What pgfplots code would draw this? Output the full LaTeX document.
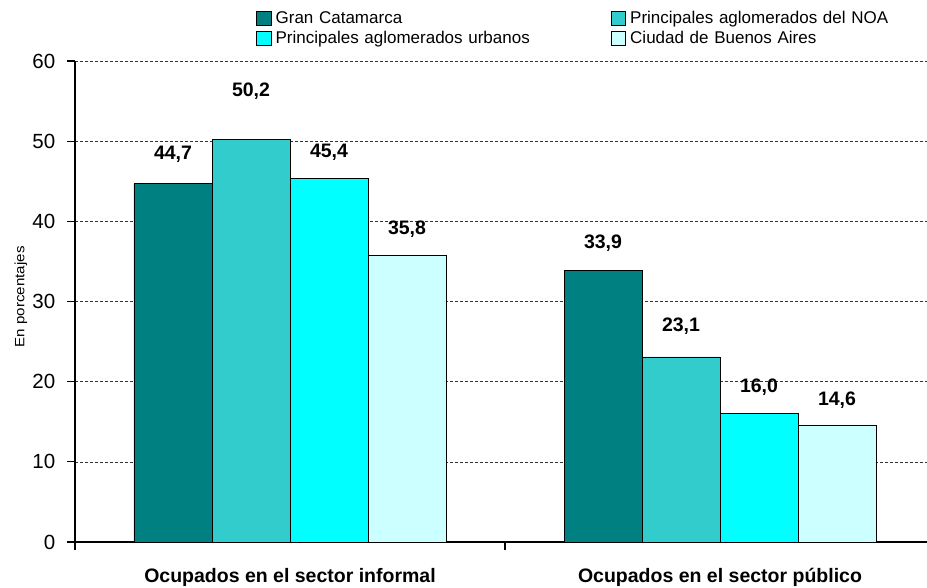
\documentclass[border=0pt]{standalone}
\usepackage{fontspec}
\setmainfont{Liberation Sans}
\usepackage{graphicx}
\usepackage{pgfplots}
\pgfplotsset{compat=1.18}
\definecolor{cA}{HTML}{008080}
\definecolor{cB}{HTML}{33CCCC}
\definecolor{cC}{HTML}{00FFFF}
\definecolor{cD}{HTML}{CCFFFF}
\pgfplotsset{
  mylegend/.style={legend image code/.code={\draw[##1, draw=black, line width=0.6pt] (0pt,-7pt) rectangle (14.5pt,7pt); \path (17pt,0pt);}},
}
\begin{document}
\begin{tikzpicture}
\useasboundingbox (0,0) rectangle (927pt,587pt);
\begin{axis}[
  at={(75pt,45pt)}, anchor=south west,
  scale only axis, width=860pt, height=481pt,
  xmin=-0.5, xmax=1.5, ymin=0, ymax=60,
  ybar=0pt, bar width=78pt,
  axis x line*=bottom, axis y line*=left,
  axis line style={line width=1.6pt, black},
  ytick={0,10,...,60},
  ymajorgrids,
  grid style={densely dashed, line width=0.5pt, black!80},
  tick align=outside,
  ytick style={line width=1.2pt, black},
  major tick length=8pt,
  yticklabel style={font=\fontsize{20.5}{24}\selectfont, inner sep=0pt, xshift=-11.5pt},
  /pgf/number format/assume math mode=true,
  xtick={-0.5,0.5,1.5},
  xticklabels={},
  xtick style={line width=1.2pt, black},
  extra x ticks={0,1},
  extra x tick labels={Ocupados en el sector informal, Ocupados en el sector público},
  extra x tick style={major tick length=0pt, xticklabel style={font=\bfseries\fontsize{19.5}{22}\selectfont, anchor=base, inner sep=0pt, yshift=-40pt}},
  ylabel={\scalebox{1.12}[1]{En porcentajes}},
  ylabel style={font=\fontsize{13.5}{15}\selectfont, at={(axis description cs:-0.0628,0.51)}, anchor=center},
  visualization depends on={value \thisrow{off} \as \labeloff},
  nodes near coords={\pgfmathprintnumber[fixed,fixed zerofill,precision=1,use comma]{\pgfplotspointmeta}},
  every node near coord/.append style={font=\bfseries\fontsize{19.5}{22}\selectfont, anchor=center, inner sep=0pt, yshift=\labeloff pt, black},
  legend columns=2,
  legend style={draw=none, fill=none, inner sep=0pt, outer sep=0pt,
    at={(axis description cs:0.2105,1.108)}, anchor=north west,
    font=\fontsize{17}{20}\selectfont, row sep=2pt,
    /tikz/every even column/.append style={text width=333pt, inner ysep=1.5pt, inner xsep=1pt, text height=12.5pt, text depth=3.5pt}},
]
\addplot[fill=cA, draw=black, line width=0.6pt, mylegend] table[x=x,y=y] {
x y off
0 44.7 29
1 33.9 27
};
\addplot[fill=cB, draw=black, line width=0.6pt, mylegend] table[x=x,y=y] {
x y off
0 50.2 48
1 23.1 31
};
\addplot[fill=cC, draw=black, line width=0.6pt, mylegend] table[x=x,y=y] {
x y off
0 45.4 26
1 16.0 27
};
\addplot[fill=cD, draw=black, line width=0.6pt, mylegend] table[x=x,y=y] {
x y off
0 35.8 26
1 14.6 25
};
\legend{Gran Catamarca, Principales aglomerados del NOA, Principales aglomerados urbanos, Ciudad de Buenos Aires}
\end{axis}
\end{tikzpicture}
\end{document}
